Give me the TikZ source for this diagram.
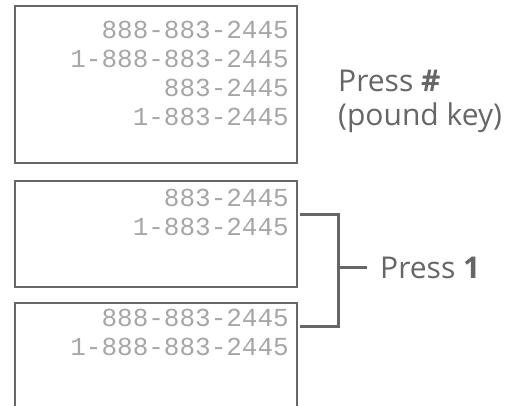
\documentclass[tikz,border=0pt]{standalone}
\usepackage{fontspec}
\setmainfont{Open Sans}
\newfontfamily\lcdfont{Liberation Mono}
\definecolor{frame}{HTML}{666666}
\definecolor{lcd}{HTML}{A6A6A6}
\definecolor{labelc}{HTML}{666666}
\begin{document}
\begin{tikzpicture}[x=1pt,y=-1pt,
  screen/.style={draw=frame,line width=2pt},
  lcdline/.style={anchor=east,inner sep=0pt,text=lcd,font=\lcdfont\fontsize{26}{26}\selectfont},
  presslabel/.style={anchor=west,inner sep=0pt,text=labelc,font=\fontsize{30}{36}\selectfont},
  bracketline/.style={draw=frame,line width=3pt}]
\useasboundingbox (0,0) rectangle (528,406);
% boxes
\draw[screen] (15,6) rectangle (297,163);
\draw[screen] (15,181) rectangle (297,287);
\draw[screen] (15,410) -- (15,303) -- (297,303) -- (297,410);
% box 1 text
\node[lcdline] (a1) at (289,30) {888-883-2445};
\node[lcdline] (a2) at (289,59) {1-888-883-2445};
\node[lcdline] (a3) at (289,88) {883-2445};
\node[lcdline] (a4) at (289,117) {1-883-2445};
% box 2 text
\node[lcdline] (b1) at (289,198) {883-2445};
\node[lcdline] (b2) at (289,227) {1-883-2445};
% box 3 text
\node[lcdline] (c1) at (289,318) {888-883-2445};
\node[lcdline] (c2) at (289,347) {1-888-883-2445};
% labels
\node[presslabel] (p1) at (338,81) {Press \textbf{\#}};
\node[presslabel] (p2) at (338,118) {(pound key)};
% bracket
\coordinate (t1) at (300,215);
\coordinate (t2) at (338,215);
\coordinate (t3) at (338,327);
\coordinate (t4) at (300,327);
\coordinate (m1) at (338,268);
\coordinate (m2) at (367,268);
\draw[bracketline] (t1) -- (t2) -- (t3) -- (t4);
\draw[bracketline] (m1) -- (m2);
\node[presslabel] (p3) at (380,268) {Press \textbf{1}};
\end{tikzpicture}
\end{document}
